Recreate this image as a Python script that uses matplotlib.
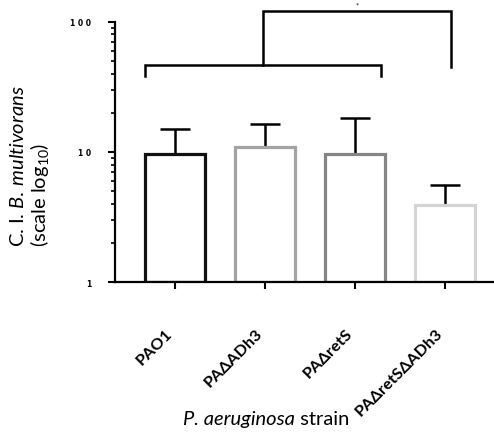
import matplotlib
matplotlib.use("Agg")
import matplotlib.pyplot as plt
import matplotlib.transforms as mtransforms
import numpy as np
from matplotlib.ticker import FixedLocator, FixedFormatter, LogLocator, NullFormatter

# Data
strains = ["PAO1", "PAΔADh3", "PAΔretS", "PAΔretSΔADh3"]
means = [9.6, 10.9, 9.7, 3.9]
sem = [5.4, 5.5, 8.6, 1.7]
edge_colors = ["#111111", "#a3a3a3", "#858585", "#d3d3d3"]
ytick_vals = [1, 10, 100]
ytick_labels = ["1", "1 0", "1 0 0"]

plt.rcParams['font.family'] = ['Lato', 'DejaVu Sans']
plt.rcParams['mathtext.fontset'] = 'custom'
plt.rcParams['mathtext.rm'] = 'Lato'
plt.rcParams['mathtext.it'] = 'Lato:italic'

fig = plt.figure(figsize=(4.94, 4.39), dpi=100)
ax = fig.add_axes([0.233, 0.355, 0.767, 0.593])

x = np.arange(len(strains))
ax.set_yscale('log')
ax.bar(x, np.array(means) - 1, bottom=1, width=0.66, color='white',
       edgecolor=edge_colors, linewidth=2.3, zorder=2)
ax.errorbar(x, means, yerr=[np.zeros(len(sem)), sem], fmt='none',
            ecolor='black', elinewidth=1.8, capsize=10.5, capthick=1.8, zorder=1)

ax.set_xlim(-0.667, 3.544)
ax.set_ylim(1, 100)

# significance brackets
lw = 1.8
ax.plot([-0.34, -0.34, 2.29, 2.29], [38.4, 46.7, 46.7, 38.4], color='black',
        lw=lw, clip_on=False, solid_joinstyle='miter')
ax.plot([0.98, 0.98, 3.07, 3.07], [46.7, 121, 121, 45], color='black',
        lw=lw, clip_on=False, solid_joinstyle='miter')
ax.text(2.02, 126, "*", ha='center', va='bottom', fontsize=5, clip_on=False)

# axes styling
for s in ['top', 'right']:
    ax.spines[s].set_visible(False)
ax.spines['left'].set_linewidth(1.6)
ax.spines['bottom'].set_linewidth(1.6)

ax.yaxis.set_major_locator(FixedLocator(ytick_vals))
ax.yaxis.set_major_formatter(FixedFormatter(ytick_labels))
ax.yaxis.set_minor_locator(LogLocator(base=10, subs=np.arange(2, 10)))
ax.yaxis.set_minor_formatter(NullFormatter())
ax.tick_params(axis='y', which='major', length=5, width=1.5, labelsize=5.5, pad=12)
ax.tick_params(axis='y', which='minor', length=3, width=1.2)
for lab in ax.get_yticklabels():
    lab.set_fontweight('bold')
    lab.set_family('DejaVu Sans')

ax.set_xticks(x)
ax.set_xticklabels(strains, rotation=45, ha='right', rotation_mode='anchor',
                   fontweight='bold', fontsize=11.8)
ax.tick_params(axis='x', length=5, width=1.5, pad=24)
shift = mtransforms.ScaledTranslation(-10 / 100, -3 / 100, fig.dpi_scale_trans)
for lab in ax.get_xticklabels():
    lab.set_transform(lab.get_transform() + shift)

ax.set_ylabel("C. I. $\\it{B.\\,multivorans}$\n(scale log$_{10}$)", fontsize=14.5,
              linespacing=1.05, multialignment='left')
ax.yaxis.set_label_coords(-0.17, 0.45)

# x label: italic species name followed by upright "strain"
t1 = fig.text(183 / 494, 1 - 420 / 439, "P. aeruginosa", fontsize=14.5,
              style='italic', ha='left', va='center')
ax.annotate(" strain", xy=(1, 0.5), xycoords=t1, fontsize=14.5,
            ha='left', va='center', annotation_clip=False)

fig.savefig("out.png", dpi=100)
